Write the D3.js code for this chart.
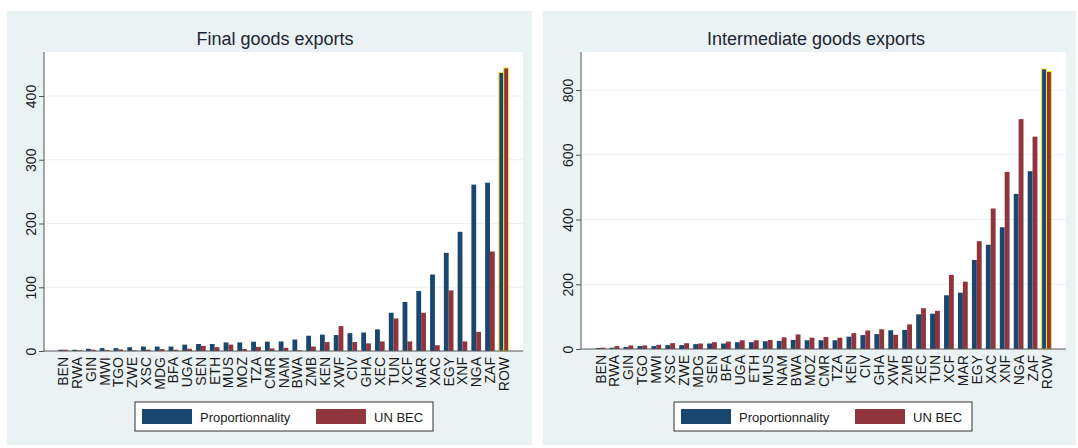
<!DOCTYPE html>
<html>
<head>
<meta charset="utf-8">
<script src="https://cdn.jsdelivr.net/npm/d3@7"></script>
<style>
    body { margin: 0; background: #ffffff; }
    svg text { font-family: 'Liberation Sans', Arial, sans-serif; fill: #1a1a1a; }
</style>
</head>
<body>
<svg id="chart" width="1078" height="448"></svg>
<script>
//Datos: exportaciones de bienes finales
let finalCountries = ['BEN','RWA','GIN','MWI','TGO','ZWE','XSC','MDG','BFA','UGA','SEN','ETH','MUS','MOZ','TZA','CMR','NAM','BWA','ZMB','KEN','XWF','CIV','GHA','XEC','TUN','XCF','MAR','XAC','EGY','XNF','NGA','ZAF','ROW'];
let finalProp = [2,2,3.5,4.5,4.5,6,7,7,7,10,11,11,13.5,13.5,14.6,14.6,15,18,24,25.7,25,28,29,34,60,77,94,120,154,187,261,264,437];
let finalBec = [2,1,2,1.5,2.5,1,2,3,2,3.5,8,6,10,3,6.5,4,5,1,7,14,39,14,12,15,51,15,60,9,95,15,30,156,444];
let finalTicks = [0,100,200,300,400];

//Datos: exportaciones de bienes intermedios
let interCountries = ['BEN','RWA','GIN','TGO','MWI','XSC','ZWE','MDG','SEN','BFA','UGA','ETH','MUS','NAM','BWA','MOZ','CMR','TZA','KEN','CIV','GHA','XWF','ZMB','XEC','TUN','XCF','MAR','EGY','XAC','XNF','NGA','ZAF','ROW'];
let interProp = [3,4,6,9,9,12,12,15,17,17,21,21,24,25,28,27,27,27,38,43,46,58,59,107,109,166,174,275,322,376,479,549,865];
let interBec = [4,9,11,11,13,18,18,17,21,23,27,27,28,36,45,35,37,35,49,57,61,44,76,126,118,229,208,333,434,547,710,656,857];
let interTicks = [0,200,400,600,800];

let seriesNames = ['Proportionnality', 'UN BEC'];

//Colores
let blue_color = '#1a476f', red_color = '#90353b';
let panel_color = '#eaf2f3', grid_color = '#eaf2f3', highlight_color = '#f2e23a';

let svg = d3.select('#chart');

function drawPanel(opt) {
    let g = svg.append('g');

    //Fondo del panel y zona del gráfico
    g.append('rect')
        .attr('x', opt.panel[0]).attr('y', 11)
        .attr('width', opt.panel[1] - opt.panel[0]).attr('height', 434)
        .attr('fill', panel_color);

    g.append('rect')
        .attr('x', opt.left).attr('y', 52)
        .attr('width', opt.right - opt.left).attr('height', opt.zeroY - 52)
        .attr('fill', '#ffffff');

    //Título
    g.append('text')
        .attr('x', opt.titleX).attr('y', 45)
        .attr('text-anchor', 'middle')
        .style('font-size', '18px')
        .style('fill', '#1c2533')
        .text(opt.title);

    //Escalas
    let x = d3.scaleBand()
        .domain(opt.categories)
        .range([opt.left, opt.right])
        .paddingInner(0.3)
        .paddingOuter(1.05);

    let xSub = d3.scaleBand()
        .domain(seriesNames)
        .range([0, x.bandwidth()]);

    let y = d3.scaleLinear()
        .domain([0, opt.topTick])
        .range([opt.zeroY, opt.topY]);

    //Líneas de rejilla
    g.append('g')
        .selectAll('line')
        .data(opt.ticks.filter(function(d) { return d > 0; }))
        .enter()
        .append('line')
        .attr('x1', opt.left).attr('x2', opt.right)
        .attr('y1', function(d) { return y(d); })
        .attr('y2', function(d) { return y(d); })
        .attr('stroke', grid_color)
        .attr('stroke-width', 1);

    //Eje Y
    let yAxis = function(sel) {
        sel.call(d3.axisLeft(y).tickValues(opt.ticks).tickSize(5).tickSizeOuter(0))
        sel.call(function(s) { s.select('.domain').attr('stroke', '#555').attr('d', `M0,${opt.zeroY}V52`); })
        sel.call(function(s) { s.selectAll('.tick line').attr('stroke', '#555'); })
        sel.call(function(s) {
            s.selectAll('.tick text')
                .attr('x', null).attr('dy', null)
                .attr('transform', 'translate(-8,0) rotate(-90)')
                .attr('text-anchor', 'middle')
                .style('font-size', '14px')
                .style('font-family', "'Liberation Sans', Arial, sans-serif")
                .attr('fill', '#1a1a1a');
        });
    }

    g.append('g')
        .attr('transform', `translate(${opt.left},0)`)
        .call(yAxis);

    //Barras
    let rows = opt.categories.map(function(c, i) {
        return {cat: c, values: [
            {key: seriesNames[0], value: opt.prop[i], color: blue_color},
            {key: seriesNames[1], value: opt.bec[i], color: red_color}
        ]};
    });

    g.append('g')
        .selectAll('g')
        .data(rows)
        .enter()
        .append('g')
        .attr('transform', function(d) { return `translate(${x(d.cat)},0)`; })
        .selectAll('rect')
        .data(function(d) { return d.values.map(function(v) { return Object.assign({cat: d.cat}, v); }); })
        .enter()
        .append('rect')
        .attr('x', function(d) { return xSub(d.key); })
        .attr('width', xSub.bandwidth())
        .attr('y', function(d) { return y(d.value); })
        .attr('height', function(d) { return y(0) - y(d.value); })
        .attr('fill', function(d) { return d.color; })
        .attr('stroke', function(d) { return d.cat == 'ROW' ? highlight_color : 'none'; })
        .attr('stroke-width', 1);

    //Línea del eje X
    g.append('line')
        .attr('x1', opt.left).attr('x2', opt.right)
        .attr('y1', opt.zeroY).attr('y2', opt.zeroY)
        .attr('stroke', '#555').attr('stroke-width', 1);

    //Etiquetas de categorías
    g.append('g')
        .selectAll('text')
        .data(opt.categories)
        .enter()
        .append('text')
        .attr('transform', function(d) { return `translate(${x(d) + x.bandwidth() / 2},${opt.zeroY + 6}) rotate(-90)`; })
        .attr('text-anchor', 'end')
        .attr('dy', '0.36em')
        .style('font-size', '14px')
        .text(function(d) { return d; });

    //Leyenda
    let lg = g.append('g').attr('transform', `translate(${opt.legendX},402)`);
    lg.append('rect')
        .attr('width', 298).attr('height', 29)
        .attr('fill', '#ffffff').attr('stroke', '#333').attr('stroke-width', 1);

    let items = [
        {name: seriesNames[0], color: blue_color, dx: 7},
        {name: seriesNames[1], color: red_color, dx: 181}
    ];
    items.forEach(function(it) {
        lg.append('rect')
            .attr('x', it.dx).attr('y', 7)
            .attr('width', 50).attr('height', 15)
            .attr('fill', it.color);
        lg.append('text')
            .attr('x', it.dx + 58).attr('y', 20)
            .style('font-size', '13px')
            .text(it.name);
    });
}

drawPanel({
    title: 'Final goods exports', titleX: 275,
    panel: [7, 532], left: 44, right: 523,
    zeroY: 351, topY: 96, topTick: 400, ticks: finalTicks,
    categories: finalCountries, prop: finalProp, bec: finalBec,
    legendX: 135
});

drawPanel({
    title: 'Intermediate goods exports', titleX: 816,
    panel: [543, 1076], left: 581, right: 1066,
    zeroY: 349, topY: 90, topTick: 800, ticks: interTicks,
    categories: interCountries, prop: interProp, bec: interBec,
    legendX: 674
});
</script>
</body>
</html>
